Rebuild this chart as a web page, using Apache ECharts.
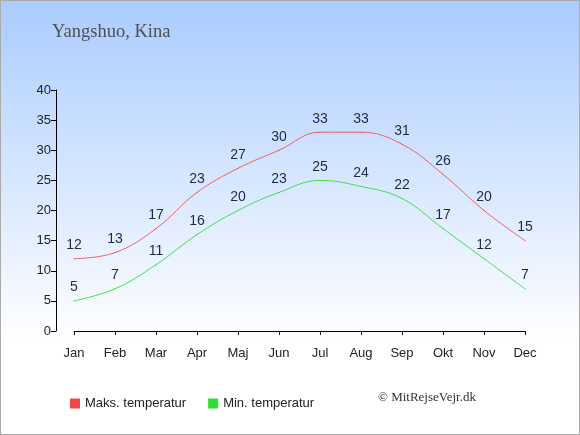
<!DOCTYPE html>
<html>
<head>
<meta charset="utf-8">
<script src="https://cdn.jsdelivr.net/npm/echarts@6/dist/echarts.min.js"></script>
<style>
  html, body { margin: 0; padding: 0; }
  #chart {
    width: 578px; height: 433px;
    border: 1px solid #aaaaaa;
    background: linear-gradient(to bottom, #aaccff 0px, #ffffff 340px, #ffffff 433px);
  }
</style>
</head>
<body>
<div id="chart"></div>
<script>
// Yangshuo, Kina - temperatur pr. måned
const months = ['Jan', 'Feb', 'Mar', 'Apr', 'Maj', 'Jun', 'Jul', 'Aug', 'Sep', 'Okt', 'Nov', 'Dec'];
const maxTemp = [12, 13, 17, 23, 27, 30, 33, 33, 31, 26, 20, 15];
const minTemp = [5, 7, 11, 16, 20, 23, 25, 24, 22, 17, 12, 7];

const sans = 'Liberation Sans, Arial, sans-serif';
const serif = 'Liberation Serif, Times New Roman, serif';

const labelStyle = {
    show: true,
    position: 'top',
    distance: 6,
    color: '#1b2b4b',
    fontSize: 14,
    fontFamily: sans
};

const chart = echarts.init(document.getElementById('chart'));

chart.setOption({
    animation: false,
    title: {
        text: 'Yangshuo, Kina',
        left: 46,
        top: 17,
        textStyle: {
            fontFamily: serif,
            fontWeight: 'normal',
            fontSize: 18.5,
            color: '#505050'
        }
    },
    legend: {
        left: 64,
        top: 391,
        icon: 'rect',
        itemWidth: 10,
        itemHeight: 10,
        itemGap: 22,
        textStyle: { fontSize: 13, color: '#222', fontFamily: sans },
        data: ['Maks. temperatur', 'Min. temperatur']
    },
    graphic: [{
        type: 'text',
        left: 377,
        top: 390,
        style: {
            text: '© MitRejseVejr.dk',
            fontFamily: serif,
            fontSize: 13,
            fill: '#333'
        }
    }],
    grid: { left: 73, right: 54, top: 89, bottom: 103 },
    xAxis: {
        type: 'category',
        data: months,
        boundaryGap: false,
        offset: 10,
        axisLine: { lineStyle: { color: '#000', width: 1 } },
        axisTick: { alignWithLabel: true, length: 4, lineStyle: { color: '#000' } },
        axisLabel: { color: '#222', fontSize: 13, margin: 6, fontFamily: sans },
        splitLine: { show: false }
    },
    yAxis: {
        type: 'value',
        min: 0,
        max: 40,
        interval: 5,
        offset: 18,
        axisLine: { show: true, lineStyle: { color: '#000', width: 1 } },
        axisTick: { show: true, length: 5, lineStyle: { color: '#000' } },
        axisLabel: { color: '#222', fontSize: 13, margin: 5, fontFamily: sans },
        splitLine: { show: false }
    },
    series: [
        {
            name: 'Maks. temperatur',
            type: 'line',
            data: maxTemp,
            smooth: 0.4,
            smoothConstraint: false,
            symbol: 'circle',
            symbolSize: 1,
            showSymbol: true,
            itemStyle: { color: '#f04848' },
            lineStyle: { color: '#f06060', width: 1 },
            label: labelStyle
        },
        {
            name: 'Min. temperatur',
            type: 'line',
            data: minTemp,
            smooth: 0.4,
            smoothConstraint: false,
            symbol: 'circle',
            symbolSize: 1,
            showSymbol: true,
            itemStyle: { color: '#33dd33' },
            lineStyle: { color: '#44e044', width: 1 },
            label: labelStyle
        }
    ]
});
</script>
</body>
</html>
